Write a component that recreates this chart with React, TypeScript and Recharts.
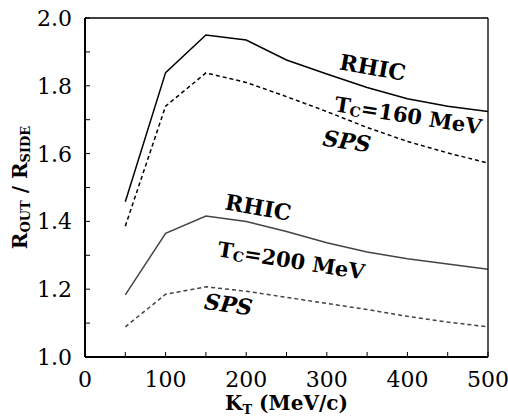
import React from "react"
import { LineChart, Line, XAxis, YAxis, ReferenceDot } from "recharts"

// transverse momentum K_T in MeV/c
const kT = [50, 100, 150, 200, 250, 300, 350, 400, 450, 500]

// R_out / R_side, Tc = 160 MeV
const rhic160 = [1.458, 1.839, 1.95, 1.935, 1.876, 1.835, 1.795, 1.762, 1.74, 1.724]
const sps160 = [1.386, 1.74, 1.838, 1.81, 1.768, 1.724, 1.677, 1.636, 1.602, 1.572]

// R_out / R_side, Tc = 200 MeV
const rhic200 = [1.183, 1.365, 1.416, 1.4, 1.37, 1.337, 1.31, 1.29, 1.274, 1.259]
const sps200 = [1.089, 1.185, 1.207, 1.194, 1.176, 1.158, 1.14, 1.12, 1.103, 1.089]

const xTicks = [0, 50, 100, 150, 200, 250, 300, 350, 400, 450, 500]
const yTicks = [1.0, 1.1, 1.2, 1.3, 1.4, 1.5, 1.6, 1.7, 1.8, 1.9, 2.0]

// curve annotations, placed in data coordinates
const notes = [
  { x: 357, y: 1.855, text: "RHIC", angle: 10, italic: false },
  { x: 401, y: 1.714, text: "T|C|=160 MeV", angle: 9, italic: false },
  { x: 325, y: 1.637, text: "SPS", angle: 8, italic: true },
  { x: 215, y: 1.442, text: "RHIC", angle: 10, italic: false },
  { x: 256, y: 1.286, text: "T|C|=200 MeV", angle: 9, italic: false },
  { x: 178, y: 1.156, text: "SPS", angle: 8, italic: true },
]

const rows = kT.map((k, i) => ({
  k,
  rhic160: rhic160[i],
  sps160: sps160[i],
  rhic200: rhic200[i],
  sps200: sps200[i],
}))

const FONT = "DejaVu Serif"

function XTick({ x, y, payload }: any) {
  const v = payload.value
  if (v % 100 !== 0) return null
  return (
    <text x={x} y={y + 35} textAnchor="middle" fontFamily={FONT} fontSize={22} fill="#000">
      {v}
    </text>
  )
}

function YTick({ x, y, payload }: any) {
  const v = payload.value
  if (Math.round(v * 10) % 2 !== 0) return null
  return (
    <text x={x} y={y} dy={8} textAnchor="end" fontFamily={FONT} fontSize={22} fill="#000">
      {v.toFixed(1)}
    </text>
  )
}

function Note({ cx, cy, text, angle, italic }: any) {
  const [a, sub, b] = text.split("|")
  return (
    <text
      x={cx}
      y={cy}
      textAnchor="middle"
      dominantBaseline="central"
      transform={`rotate(${angle}, ${cx}, ${cy})`}
      fontFamily={FONT}
      fontWeight="bold"
      fontStyle={italic ? "italic" : "normal"}
      fontSize={21}
      fill="#000"
    >
      {sub === undefined ? (
        <tspan fontSize={22}>{a}</tspan>
      ) : (
        <>
          <tspan>{a}</tspan>
          <tspan dy={5} fontSize={14}>{sub}</tspan>
          <tspan dy={-5}>{b}</tspan>
        </>
      )}
    </text>
  )
}

function YTitle({ viewBox }: any) {
  const cx = viewBox.x + 20
  const cy = viewBox.y + viewBox.height / 2
  return (
    <text
      x={cx}
      y={cy}
      textAnchor="middle"
      dominantBaseline="central"
      transform={`rotate(-90, ${cx}, ${cy})`}
      fontFamily={FONT}
      fontWeight="bold"
      fontSize={20}
      fill="#000"
    >
      <tspan>R</tspan>
      <tspan dy={5} fontSize={13}>OUT</tspan>
      <tspan dy={-5}> / R</tspan>
      <tspan dy={5} fontSize={13}>SIDE</tspan>
    </text>
  )
}

function XTitle({ viewBox }: any) {
  const cx = viewBox.x + viewBox.width / 2
  const y = viewBox.y + 53
  return (
    <text x={cx} y={y} textAnchor="middle" fontFamily={FONT} fontWeight="bold" fontSize={20} fill="#000">
      <tspan>K</tspan>
      <tspan dy={4} fontSize={13}>T</tspan>
      <tspan dy={-4}> (MeV/c)</tspan>
    </text>
  )
}

export default function App() {
  return (
    <div style={{ position: "absolute", left: 0, top: 0, background: "#fff" }}>
      <LineChart width={508} height={417} data={rows} margin={{ top: 0, right: 0, bottom: 0, left: 0 }}>
        <XAxis
          xAxisId="bottom"
          dataKey="k"
          type="number"
          domain={[0, 500]}
          ticks={xTicks}
          height={60}
          tick={<XTick />}
          tickSize={-5}
          tickMargin={0}
          tickLine={{ stroke: "#000", strokeWidth: 1 }}
          axisLine={{ stroke: "#000", strokeWidth: 2 }}
          label={<XTitle />}
        />
        <XAxis
          xAxisId="top"
          orientation="top"
          dataKey="k"
          type="number"
          domain={[0, 500]}
          ticks={xTicks}
          tick={false}
          height={18}
          tickSize={-5}
          tickLine={{ stroke: "#000", strokeWidth: 1 }}
          axisLine={{ stroke: "#000", strokeWidth: 1.3 }}
        />
        <YAxis
          yAxisId="left"
          type="number"
          domain={[1, 2]}
          ticks={yTicks}
          width={85}
          tick={<YTick />}
          tickSize={-5}
          tickMargin={18}
          tickLine={{ stroke: "#000", strokeWidth: 1 }}
          axisLine={{ stroke: "#000", strokeWidth: 2 }}
          label={<YTitle />}
        />
        <YAxis
          yAxisId="right"
          orientation="right"
          type="number"
          domain={[1, 2]}
          ticks={yTicks}
          tick={false}
          width={20}
          tickSize={-5}
          tickLine={{ stroke: "#000", strokeWidth: 1 }}
          axisLine={{ stroke: "#000", strokeWidth: 1.3 }}
        />
        <Line xAxisId="bottom" yAxisId="left" type="linear" dataKey="rhic160" stroke="#000" strokeWidth={1.5} dot={false} isAnimationActive={false} />
        <Line xAxisId="bottom" yAxisId="left" type="linear" dataKey="sps160" stroke="#000" strokeWidth={1.5} strokeDasharray="4 3" dot={false} isAnimationActive={false} />
        <Line xAxisId="bottom" yAxisId="left" type="linear" dataKey="rhic200" stroke="#444" strokeWidth={1.5} dot={false} isAnimationActive={false} />
        <Line xAxisId="bottom" yAxisId="left" type="linear" dataKey="sps200" stroke="#444" strokeWidth={1.5} strokeDasharray="4 3" dot={false} isAnimationActive={false} />
        {notes.map((n, i) => (
          <ReferenceDot
            key={i}
            xAxisId="bottom"
            yAxisId="left"
            x={n.x}
            y={n.y}
            r={0}
            shape={(p: any) => <Note cx={p.cx} cy={p.cy} text={n.text} angle={n.angle} italic={n.italic} />}
          />
        ))}
      </LineChart>
    </div>
  )
}
